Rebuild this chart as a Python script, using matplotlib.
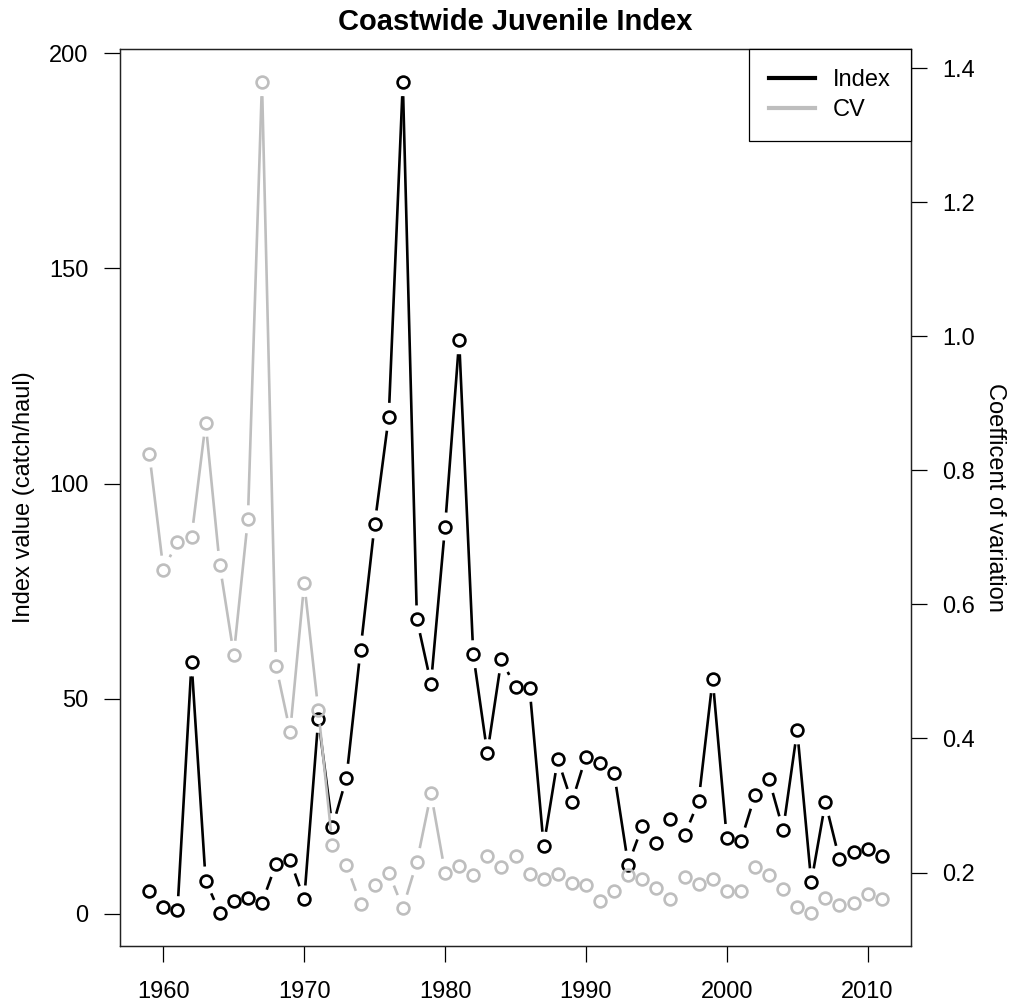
import numpy as np
import matplotlib
matplotlib.use("Agg")
import matplotlib.pyplot as plt

plt.rcParams['font.family'] = ['Liberation Sans', 'DejaVu Sans']

years = np.arange(1959, 2012)
index_vals = [5.3, 1.5, 0.8, 58.4, 7.7, 0.2, 2.9, 3.7, 2.5, 11.6,
              12.4, 3.3, 45.3, 20.1, 31.6, 61.4, 90.5, 115.5, 193.3, 68.4,
              53.5, 90.0, 133.3, 60.3, 37.3, 59.1, 52.6, 52.5, 15.8, 35.9,
              25.9, 36.5, 35.0, 32.7, 11.4, 20.3, 16.4, 21.9, 18.2, 26.2,
              54.5, 17.6, 16.9, 27.5, 31.2, 19.5, 42.6, 7.3, 25.9, 12.6,
              14.3, 15.0, 13.3]
cv_vals = [0.825, 0.652, 0.693, 0.701, 0.871, 0.659, 0.525, 0.727, 1.379, 0.508,
           0.410, 0.632, 0.442, 0.241, 0.211, 0.153, 0.182, 0.200, 0.147, 0.216,
           0.318, 0.200, 0.210, 0.197, 0.225, 0.209, 0.224, 0.198, 0.191, 0.198,
           0.184, 0.181, 0.158, 0.172, 0.197, 0.191, 0.177, 0.160, 0.193, 0.183,
           0.191, 0.173, 0.173, 0.209, 0.196, 0.176, 0.148, 0.140, 0.162, 0.151,
           0.155, 0.168, 0.160]

index_vals = np.array(index_vals)
cv_vals = np.array(cv_vals)

def rlim(v):
    # R style 4% extension of the data range
    d = (v.max() - v.min()) * 0.04
    return v.min() - d, v.max() + d

gray = '#bebebe'
fs = 17

fig = plt.figure(figsize=(10.16, 10.07), dpi=100)
ax = fig.add_axes([120/1016, 61/1007, 791/1016, 897/1007])
ax2 = ax.twinx()

ax.set_xlim(*rlim(years.astype(float)))
ax.set_ylim(*rlim(index_vals))
ax2.set_ylim(*rlim(cv_vals))

def gap_line(a, x, y, color, gap=14):
    # type="b": segments stop short of the points
    pts = a.transData.transform(np.column_stack([x, y]))
    inv = a.transData.inverted()
    for p, q in zip(pts[:-1], pts[1:]):
        d = q - p
        L = np.hypot(*d)
        if L <= 2 * gap:
            continue
        u = d / L
        seg = inv.transform(np.array([p + u * gap, q - u * gap]))
        a.plot(seg[:, 0], seg[:, 1], color=color, lw=1.9, solid_capstyle='butt')
    a.plot(x, y, 'o', ms=8.5, mfc='none', mec=color, mew=1.9)

gap_line(ax, years, index_vals, 'black')
gap_line(ax2, years, cv_vals, gray)

ax.set_xticks([1960, 1970, 1980, 1990, 2000, 2010])
ax.set_yticks([0, 50, 100, 150, 200])
ax2.set_yticks([0.2, 0.4, 0.6, 0.8, 1.0, 1.2, 1.4])
ax2.set_yticklabels(['0.2', '0.4', '0.6', '0.8', '1.0', '1.2', '1.4'])
ax.tick_params(axis='y', length=11.5, width=0.9, pad=11, labelsize=fs)
ax.tick_params(axis='x', length=11.5, width=0.9, pad=14, labelsize=fs)
ax2.tick_params(axis='y', length=11.5, width=0.9, pad=11, labelsize=fs)
for a in (ax, ax2):
    for s in a.spines.values():
        s.set_linewidth(0.9)
        s.set_color('#222222')

ax.set_ylabel('Index value (catch/haul)', fontsize=fs, labelpad=10)
ax2.set_ylabel('Coefficent of variation', fontsize=fs, rotation=270, labelpad=22)
ax.set_title('Coastwide Juvenile Index', fontsize=21, fontweight='bold', pad=14)

h1, = ax.plot([], [], color='black', lw=3)
h2, = ax.plot([], [], color=gray, lw=3)
leg = ax2.legend([h1, h2], ['Index', 'CV'], loc='upper right', bbox_to_anchor=(1, 1),
                 borderaxespad=0, fancybox=False, framealpha=1, edgecolor='black',
                 fontsize=fs, handlelength=1.95, handletextpad=0.75, labelspacing=0.35,
                 borderpad=0.85)
leg.get_frame().set_linewidth(0.9)

fig.savefig('out.png', dpi=100)
